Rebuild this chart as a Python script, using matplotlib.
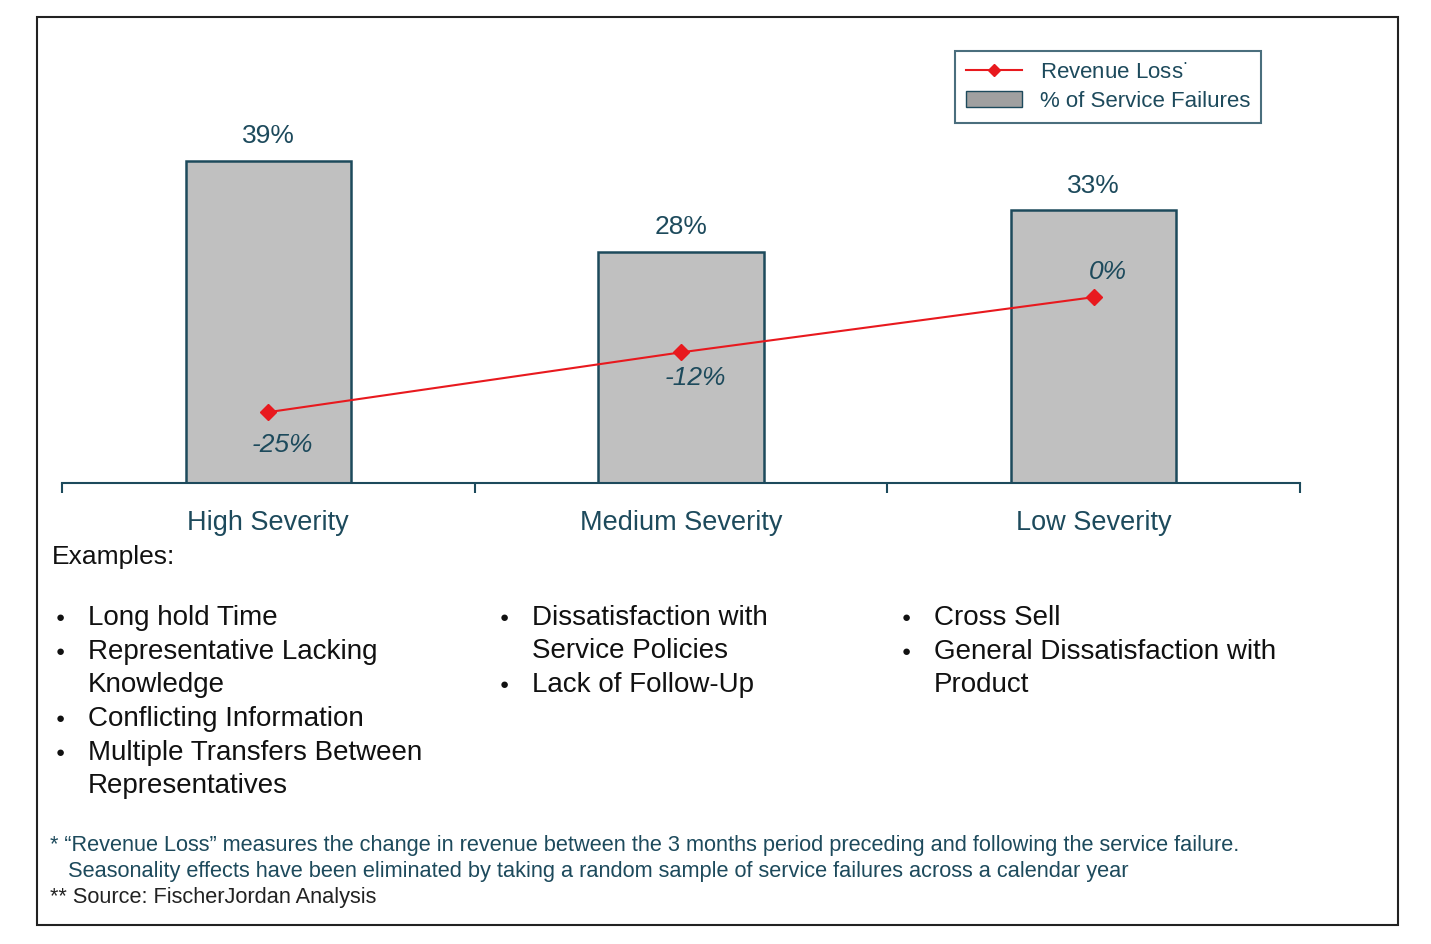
import matplotlib
matplotlib.use("Agg")
import matplotlib.pyplot as plt
from matplotlib.patches import Rectangle
from matplotlib.lines import Line2D

plt.rcParams['font.family'] = ['Liberation Sans', 'DejaVu Sans']

categories = ['High Severity', 'Medium Severity', 'Low Severity']
failures = [39, 28, 33]
revenue_loss = [-25, -12, 0]
examples = [
    ['Long hold Time', 'Representative Lacking\nKnowledge', 'Conflicting Information',
     'Multiple Transfers Between\nRepresentatives'],
    ['Dissatisfaction with\nService Policies', 'Lack of Follow-Up'],
    ['Cross Sell', 'General Dissatisfaction with\nProduct'],
]
notes = ['* \u201cRevenue Loss\u201d measures the change in revenue between the 3 months period preceding and following the service failure.',
         '   Seasonality effects have been eliminated by taking a random sample of service failures across a calendar year',
         '** Source: FischerJordan Analysis']

teal = '#1d4a5c'
W, H = 1431, 944
fig = plt.figure(figsize=(W / 100, H / 100), dpi=100)
fig.patches.append(Rectangle((37 / W, 1 - 925 / H), 1361 / W, 908 / H, transform=fig.transFigure,
                             fill=False, edgecolor='#222222', lw=1.5))

ax = fig.add_axes([62 / W, 1 - 483 / H, 1238 / W, 443 / H])
x = list(range(len(categories)))
ax.bar(x, failures, width=0.4, color='#c0c0c0', edgecolor=teal, lw=1.8)
ax.set_xlim(-0.5, 2.5)
ax.set_ylim(0, 53.6)
for i, v in zip(x, failures):
    ax.text(i, v + 1.5, f'{v}%', ha='center', va='bottom', fontsize=19, color=teal)
for s in ['top', 'right', 'left']:
    ax.spines[s].set_visible(False)
ax.spines['bottom'].set_color(teal)
ax.spines['bottom'].set_linewidth(1.5)
ax.set_yticks([])
ax.set_xticks([-0.5, 0.5, 1.5, 2.5])
ax.set_xticklabels([])
ax.tick_params(axis='x', direction='out', length=7, color=teal, width=1.5)
for i, c in zip(x, categories):
    ax.text(i, -3.3, c, ha='center', va='top', fontsize=19.5, color=teal)

ax2 = ax.twinx()
ax2.set_ylim(-40.4, 55.9)
ax2.axis('off')
ax2.plot(x, revenue_loss, color='#e8191e', lw=1.5, marker='D', ms=8)
offsets = [-7.2, -5.6, 5.4]
for i, v, o in zip(x, revenue_loss, offsets):
    ax2.text(i + 0.035, v + o, f'{v}%', ha='center', va='center', fontsize=19, color=teal, style='italic')

handles = [Line2D([], [], color='#e8191e', marker='D', ms=6, lw=1.5),
           Rectangle((0, 0), 1, 1, facecolor='#a0a0a0', edgecolor=teal)]
leg = fig.legend(handles, ['Revenue Loss$^{\\cdot}$', '% of Service Failures'],
                 loc='upper left', bbox_to_anchor=(944 / W, 1 - 40 / H), fontsize=16,
                 frameon=True, fancybox=False, edgecolor=teal, labelcolor=teal,
                 borderpad=0.5, labelspacing=0.35, handlelength=2.5)
leg.get_frame().set_linewidth(1.5)

fig.text(52 / W, 1 - 557 / H, 'Examples:', fontsize=19, va='center', color='#111111')
col_x = [52, 496, 898]
for cx, items in zip(col_x, examples):
    y = 618
    for it in items:
        fig.text((cx + 8) / W, 1 - y / H, '\u25cf', fontsize=11, ha='center', va='center', color='#111111')
        for ln in it.split('\n'):
            fig.text((cx + 36) / W, 1 - y / H, ln, fontsize=20, va='center', color='#111111')
            y += 33
        y += 1

for j, n in enumerate(notes):
    fig.text(50 / W, 1 - (845 + 26 * j) / H, n, fontsize=15.7, va='center',
             color=teal if j < 2 else '#222222')

fig.savefig('out.png', dpi=100)
